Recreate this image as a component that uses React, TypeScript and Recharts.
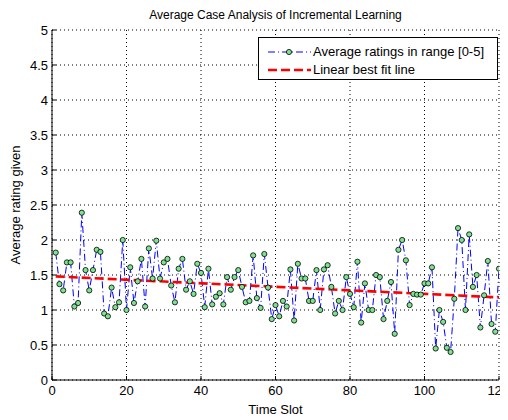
import { ComposedChart, Line, XAxis, YAxis, CartesianGrid } from 'recharts';

const slots = [
  1, 2, 3, 4, 5, 6, 7, 8, 9, 10, 11, 12, 13, 14, 15, 16, 17, 18, 19, 20,
  21, 22, 23, 24, 25, 26, 27, 28, 29, 30, 31, 32, 33, 34, 35, 36, 37, 38, 39, 40,
  41, 42, 43, 44, 45, 46, 47, 48, 49, 50, 51, 52, 53, 54, 55, 56, 57, 58, 59, 60,
  61, 62, 63, 64, 65, 66, 67, 68, 69, 70, 71, 72, 73, 74, 75, 76, 77, 78, 79, 80,
  81, 82, 83, 84, 85, 86, 87, 88, 89, 90, 91, 92, 93, 94, 95, 96, 97, 98, 99, 100,
  101, 102, 103, 104, 105, 106, 107, 108, 109, 110, 111, 112, 113, 114, 115, 116, 117, 118, 119, 120,
];

const ratings = [
  1.82, 1.37, 1.28, 1.68, 1.68, 1.05, 1.1, 2.39, 1.57, 1.28, 1.57, 1.86, 1.83, 0.95, 0.91, 1.32, 1.04, 1.11, 2.0, 1.0,
  1.61, 1.1, 1.41, 1.73, 1.05, 1.88, 1.45, 1.99, 1.45, 1.68, 1.73, 1.35, 1.11, 1.59, 1.73, 1.29, 1.41, 1.23, 1.66, 1.53,
  1.04, 1.59, 1.08, 1.19, 1.24, 1.08, 1.47, 1.29, 1.47, 1.57, 1.33, 1.11, 1.13, 1.78, 1.17, 1.03, 1.8, 1.32, 0.87, 1.07,
  0.91, 1.13, 1.05, 1.58, 0.85, 1.66, 1.45, 1.45, 1.13, 1.13, 1.57, 1.0, 1.58, 1.64, 1.33, 0.95, 1.13, 1.0, 1.47, 1.23,
  1.04, 1.69, 0.82, 1.38, 1.0, 1.0, 1.5, 1.47, 0.87, 1.13, 1.4, 0.66, 1.86, 2.0, 1.71, 1.07, 1.23, 1.22, 1.22, 1.38,
  1.38, 1.61, 0.45, 1.0, 0.83, 0.46, 0.4, 1.16, 2.17, 2.0, 1.0, 2.08, 1.33, 1.5, 0.75, 1.21, 1.7, 0.8, 0.69, 1.59,
];

// best fit line end points
const fitSlots = [1, 120];
const fitValues = [1.48, 1.18];

const xTicks = [0, 20, 40, 60, 80, 100, 120];
const yTicks = [0, 0.5, 1, 1.5, 2, 2.5, 3, 3.5, 4, 4.5, 5];

const FONT = '"Liberation Sans", Arial, sans-serif';
const DOT_FILL = '#7de38f';

const data = slots.map((slot, i) => {
  const k = fitSlots.indexOf(slot);
  return { slot, rating: ratings[i], fit: k >= 0 ? fitValues[k] : null };
});

const renderDot = (props: any) => {
  const { cx, cy, index } = props;
  if (cx == null || cy == null) return <g key={index} />;
  return (
    <circle key={index} cx={cx} cy={cy} r={2.6} fill={DOT_FILL} stroke="#000" strokeWidth={0.8} />
  );
};

const tickStyle = { fill: '#000', fontSize: 13, fontFamily: FONT };
const blank = () => '';

export default function App() {
  return (
    <div style={{ position: 'relative', width: 500, height: 412, fontFamily: FONT }}>
      <div
        style={{
          position: 'absolute', top: 0, left: 44, width: 447, textAlign: 'center',
          fontSize: 12, lineHeight: '14px', color: '#000',
        }}
      >
        Average Case Analysis of Incremental Learning
      </div>

      <ComposedChart width={500} height={404} data={data} margin={{ top: 22, right: 9, bottom: 2, left: 14 }}>
        <CartesianGrid stroke="#000" strokeDasharray="1 3" />
        <XAxis
          dataKey="slot"
          type="number"
          domain={[0, 120]}
          ticks={xTicks}
          allowDataOverflow
          height={30}
          stroke="#000"
          tickSize={-4}
          tickMargin={10}
          tick={tickStyle}
        />
        <XAxis
          xAxisId="top"
          orientation="top"
          type="number"
          domain={[0, 120]}
          ticks={xTicks}
          allowDataOverflow
          height={0}
          stroke="#000"
          tickSize={-4}
          tickFormatter={blank}
        />
        <YAxis
          type="number"
          domain={[0, 5]}
          ticks={yTicks}
          allowDataOverflow
          width={30}
          stroke="#000"
          tickSize={-4}
          tickMargin={8}
          tick={tickStyle}
        />
        <YAxis
          yAxisId="right"
          orientation="right"
          type="number"
          domain={[0, 5]}
          ticks={yTicks}
          allowDataOverflow
          width={0}
          stroke="#000"
          tickSize={-4}
          tickFormatter={blank}
        />
        <Line
          dataKey="rating"
          type="linear"
          stroke="#0000ff"
          strokeWidth={1}
          strokeDasharray="7 3 1 3"
          dot={renderDot}
          activeDot={false}
          isAnimationActive={false}
        />
        <Line
          dataKey="fit"
          type="linear"
          stroke="#ff0000"
          strokeWidth={2.6}
          strokeDasharray="9 4"
          dot={false}
          activeDot={false}
          connectNulls
          isAnimationActive={false}
        />
      </ComposedChart>

      <div
        style={{
          position: 'absolute', left: 7, top: 197, transform: 'translate(-50%, -50%) rotate(-90deg)',
          whiteSpace: 'nowrap', fontSize: 13, color: '#000',
        }}
      >
        Average rating given
      </div>
      <div
        style={{
          position: 'absolute', top: 394, left: 44, width: 447, textAlign: 'center',
          fontSize: 13, lineHeight: '15px', color: '#000',
        }}
      >
        Time Slot
      </div>

      <div
        style={{
          position: 'absolute', left: 250, top: 29, width: 238, height: 41,
          border: '1px solid #000', background: '#fff', fontSize: 13, color: '#000',
        }}
      >
        <svg width={60} height={41} style={{ position: 'absolute', left: 0, top: 0 }}>
          <line x1={9} y1={14} x2={52} y2={14} stroke="#0000ff" strokeWidth={1} strokeDasharray="7 3 1 3" />
          <circle cx={30} cy={14} r={2.6} fill={DOT_FILL} stroke="#000" strokeWidth={0.8} />
          <line x1={9} y1={32} x2={52} y2={32} stroke="#ff0000" strokeWidth={2.6} strokeDasharray="9 4" />
        </svg>
        <div style={{ position: 'absolute', left: 54, top: 6, lineHeight: '16px', whiteSpace: 'nowrap' }}>
          Average ratings in range [0-5]
        </div>
        <div style={{ position: 'absolute', left: 54, top: 24, lineHeight: '16px', whiteSpace: 'nowrap' }}>
          Linear best fit line
        </div>
      </div>
    </div>
  );
}
